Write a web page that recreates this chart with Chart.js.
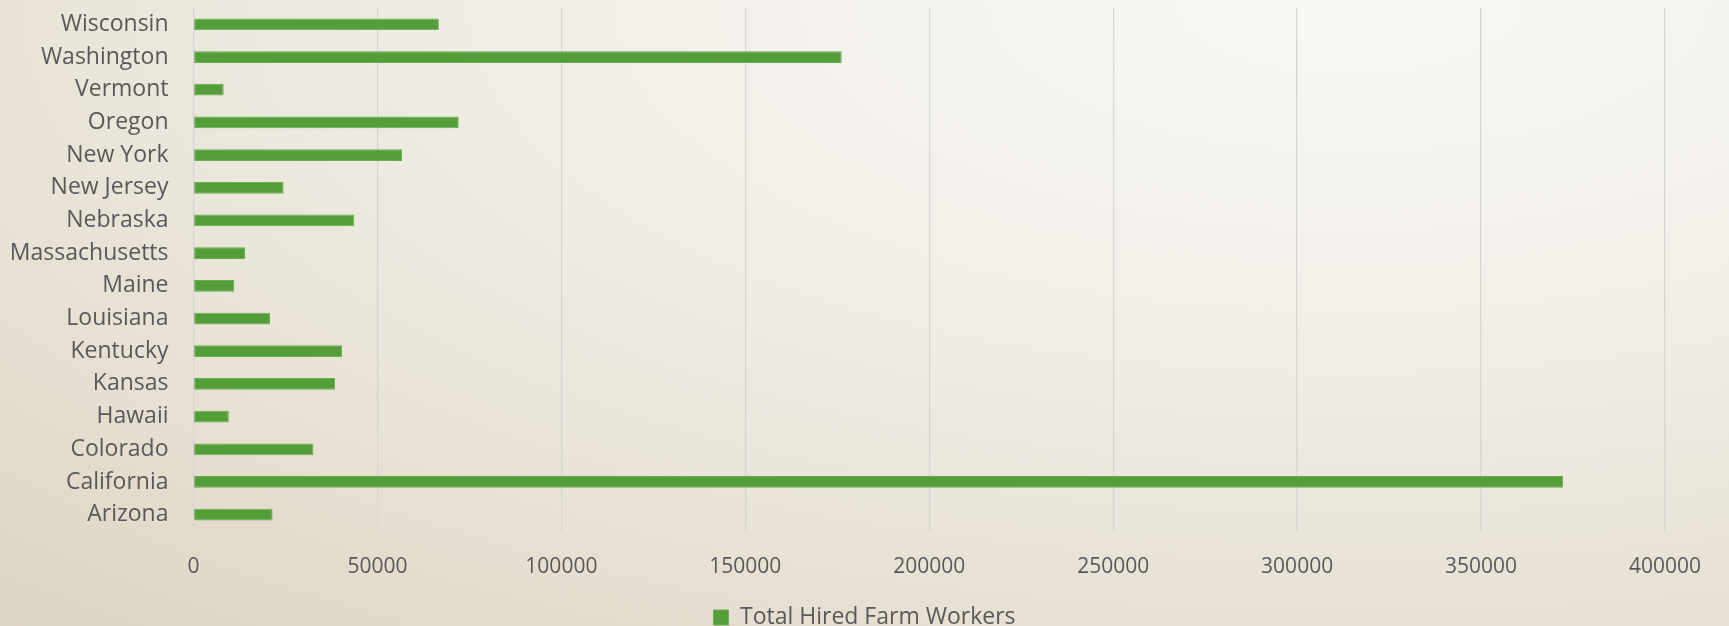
<!DOCTYPE html>
<html>
<head>
<meta charset="utf-8">
<script src="https://cdn.jsdelivr.net/npm/chart.js@4/dist/chart.umd.min.js"></script>
<style>
    html, body { margin: 0; padding: 0; }
    body {
        width: 1729px;
        height: 626px;
        overflow: hidden;
        background: radial-gradient(ellipse 120% 140% at 78% 0%, #f9f8f5 0%, #f1eee7 40%, #e6dfd1 75%, #dbd2c0 100%);
    }
    #wrap { position: relative; width: 1729px; height: 626px; }
</style>
</head>
<body>
<div id="wrap"><canvas id="farmChart"></canvas></div>
<script>
    const states = ['Arizona', 'California', 'Colorado', 'Hawaii', 'Kansas', 'Kentucky', 'Louisiana', 'Maine',
        'Massachusetts', 'Nebraska', 'New Jersey', 'New York', 'Oregon', 'Vermont', 'Washington', 'Wisconsin'];
    const hiredWorkers = [21500, 372300, 32600, 9600, 38500, 40400, 20800, 11100,
        14000, 43700, 24500, 56700, 72100, 8200, 176200, 66700];
    const xTicks = [0, 50000, 100000, 150000, 200000, 250000, 300000, 350000, 400000];
    const seriesName = 'Total Hired Farm Workers';

    document.addEventListener("DOMContentLoaded", function () {
        const ctx = document.getElementById('farmChart').getContext('2d');
        const textColor = '#595959';
        const fontFamily = "'Open Sans', 'Noto Sans', sans-serif";

        new Chart(ctx, {
            type: 'bar',
            data: {
                labels: states,
                datasets: [{
                    label: seriesName,
                    data: hiredWorkers,
                    backgroundColor: '#549e39',
                    borderColor: '#68ad50',
                    borderWidth: 1,
                    borderSkipped: false,
                    barPercentage: 0.36,
                    categoryPercentage: 1
                }]
            },
            options: {
                indexAxis: 'y',
                responsive: true,
                maintainAspectRatio: false,
                animation: false,
                layout: {
                    padding: { top: 8, right: 0, bottom: -13, left: 0 }
                },
                plugins: {
                    legend: {
                        position: 'bottom',
                        labels: {
                            color: textColor,
                            font: { family: fontFamily, size: 23 },
                            boxWidth: 15,
                            boxHeight: 15,
                            padding: 2
                        }
                    },
                    tooltip: { enabled: false }
                },
                scales: {
                    x: {
                        min: 0,
                        max: 400000,
                        afterBuildTicks: function (scale) {
                            scale.ticks = xTicks.map(v => ({ value: v }));
                        },
                        afterFit: function (scale) {
                            scale.height = 73;
                            scale.paddingRight = 64;
                        },
                        grid: {
                            color: '#d8d6d2',
                            lineWidth: 1.3,
                            drawTicks: false
                        },
                        border: { display: false },
                        ticks: {
                            color: textColor,
                            padding: 23,
                            font: { family: fontFamily, size: 21 },
                            callback: function (value) {
                                return String(value);
                            }
                        }
                    },
                    y: {
                        reverse: true,
                        afterFit: function (scale) {
                            scale.width = 193.5;
                            scale.paddingTop = 0;
                            scale.paddingBottom = 0;
                        },
                        grid: { display: false, drawTicks: false },
                        border: { display: false },
                        ticks: {
                            color: textColor,
                            padding: 25,
                            autoSkip: false,
                            font: { family: fontFamily, size: 23 }
                        }
                    }
                }
            }
        });
    });
</script>
</body>
</html>
